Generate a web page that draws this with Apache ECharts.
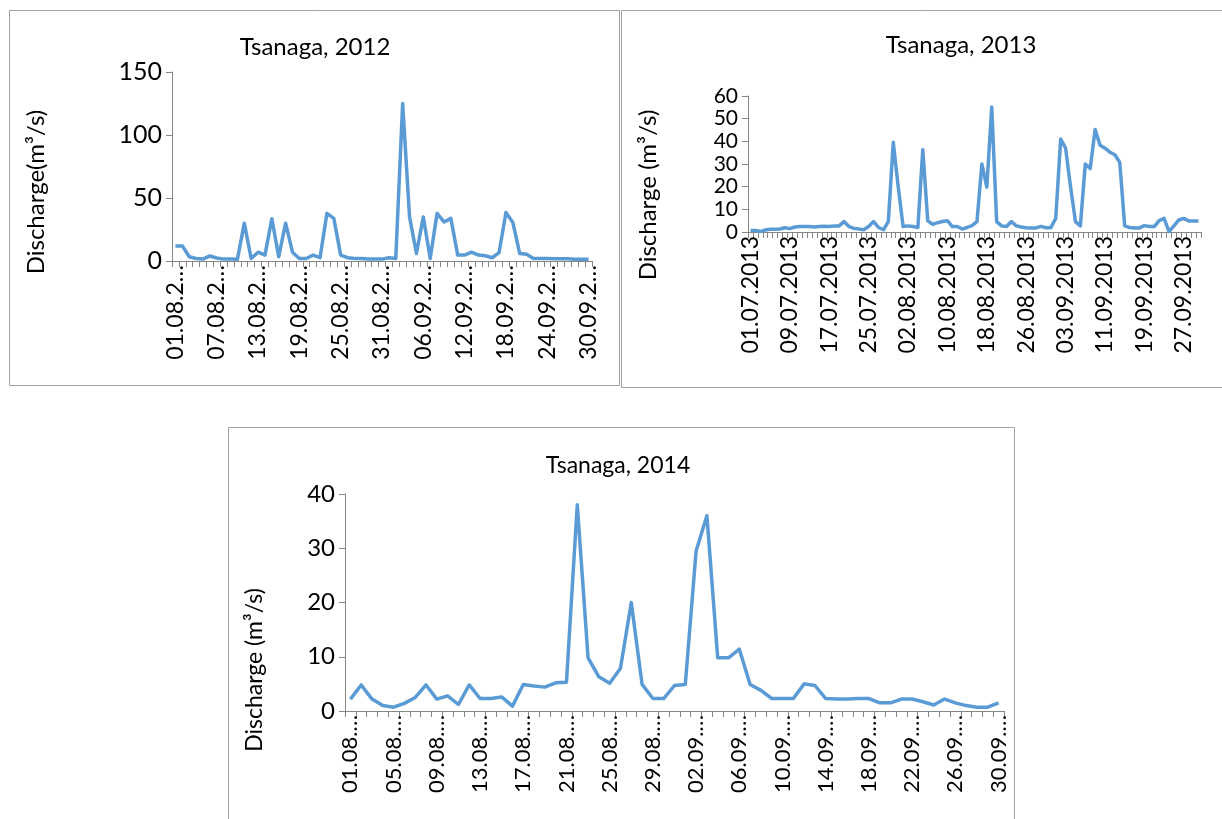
<!DOCTYPE html>
<html>
<head>
<meta charset="utf-8">
<script src="https://cdn.jsdelivr.net/npm/echarts@6/dist/echarts.min.js"></script>
<style>
html,body{margin:0;padding:0;background:#fff;}
#chart{width:1222px;height:819px;}
</style>
</head>
<body>
<div id="chart"></div>
<script>
// ---- categories ----
const dates2012 = ["01.08.2012","02.08.2012","03.08.2012","04.08.2012","05.08.2012","06.08.2012","07.08.2012","08.08.2012","09.08.2012","10.08.2012","11.08.2012","12.08.2012","13.08.2012","14.08.2012","15.08.2012","16.08.2012","17.08.2012","18.08.2012","19.08.2012","20.08.2012","21.08.2012","22.08.2012","23.08.2012","24.08.2012","25.08.2012","26.08.2012","27.08.2012","28.08.2012","29.08.2012","30.08.2012","31.08.2012","01.09.2012","02.09.2012","03.09.2012","04.09.2012","05.09.2012","06.09.2012","07.09.2012","08.09.2012","09.09.2012","10.09.2012","11.09.2012","12.09.2012","13.09.2012","14.09.2012","15.09.2012","16.09.2012","17.09.2012","18.09.2012","19.09.2012","20.09.2012","21.09.2012","22.09.2012","23.09.2012","24.09.2012","25.09.2012","26.09.2012","27.09.2012","28.09.2012","29.09.2012","30.09.2012"];
const dates2013 = ["01.07.2013","02.07.2013","03.07.2013","04.07.2013","05.07.2013","06.07.2013","07.07.2013","08.07.2013","09.07.2013","10.07.2013","11.07.2013","12.07.2013","13.07.2013","14.07.2013","15.07.2013","16.07.2013","17.07.2013","18.07.2013","19.07.2013","20.07.2013","21.07.2013","22.07.2013","23.07.2013","24.07.2013","25.07.2013","26.07.2013","27.07.2013","28.07.2013","29.07.2013","30.07.2013","31.07.2013","01.08.2013","02.08.2013","03.08.2013","04.08.2013","05.08.2013","06.08.2013","07.08.2013","08.08.2013","09.08.2013","10.08.2013","11.08.2013","12.08.2013","13.08.2013","14.08.2013","15.08.2013","16.08.2013","17.08.2013","18.08.2013","19.08.2013","20.08.2013","21.08.2013","22.08.2013","23.08.2013","24.08.2013","25.08.2013","26.08.2013","27.08.2013","28.08.2013","29.08.2013","30.08.2013","31.08.2013","01.09.2013","02.09.2013","03.09.2013","04.09.2013","05.09.2013","06.09.2013","07.09.2013","08.09.2013","09.09.2013","10.09.2013","11.09.2013","12.09.2013","13.09.2013","14.09.2013","15.09.2013","16.09.2013","17.09.2013","18.09.2013","19.09.2013","20.09.2013","21.09.2013","22.09.2013","23.09.2013","24.09.2013","25.09.2013","26.09.2013","27.09.2013","28.09.2013","29.09.2013","30.09.2013"];
const dates2014 = ["01.08.2014","02.08.2014","03.08.2014","04.08.2014","05.08.2014","06.08.2014","07.08.2014","08.08.2014","09.08.2014","10.08.2014","11.08.2014","12.08.2014","13.08.2014","14.08.2014","15.08.2014","16.08.2014","17.08.2014","18.08.2014","19.08.2014","20.08.2014","21.08.2014","22.08.2014","23.08.2014","24.08.2014","25.08.2014","26.08.2014","27.08.2014","28.08.2014","29.08.2014","30.08.2014","31.08.2014","01.09.2014","02.09.2014","03.09.2014","04.09.2014","05.09.2014","06.09.2014","07.09.2014","08.09.2014","09.09.2014","10.09.2014","11.09.2014","12.09.2014","13.09.2014","14.09.2014","15.09.2014","16.09.2014","17.09.2014","18.09.2014","19.09.2014","20.09.2014","21.09.2014","22.09.2014","23.09.2014","24.09.2014","25.09.2014","26.09.2014","27.09.2014","28.09.2014","29.09.2014","30.09.2014"];

// ---- series values (m3/s) ----
const q2012 = [12,12,3.4,2,1.5,4,2.4,1.5,1.5,1.3,
  30,2,7,4.7,33.5,3.4,30,7,2,2,
  4.7,2.6,37.8,33.8,4.7,2.6,2,2,1.5,1.5,
  1.5,2.6,2,125,35,6,35,2,37.8,31,
  33.8,4.7,4.7,7,4.7,4.2,2.6,6.6,38.5,30.6,
  6,5.3,2,2,2,1.8,1.8,1.8,1.3,1.3,1.3];
const q2013 = [0.7,0.7,0.2,0.9,1.2,1.2,1.3,1.9,1.5,2.2,
  2.4,2.4,2.4,2.2,2.4,2.5,2.4,2.7,2.7,4.6,
  2.4,1.6,1.3,1,2.4,4.6,2,1,4.6,39.6,
  20,2.4,2.7,2.4,2,36.3,4.9,3.4,4.1,4.6,
  5,2.4,2.4,1.3,2,2.8,4.6,30,19.8,55.1,
  4.6,2.7,2.4,4.6,2.7,2.2,1.9,1.8,1.8,2.5,
  1.9,1.9,6,41,37,20,4.6,2.7,30,28,
  45.2,38.3,37,35.2,34.1,30.7,2.7,2,1.8,1.8,
  2.8,2.4,2.4,5,6,0.2,2.7,5.3,6,4.9,
  4.9,4.9];
const q2014 = [2.2,4.8,2.2,1.0,0.7,1.4,2.5,4.8,2.2,2.8,
  1.2,4.8,2.3,2.3,2.6,0.9,4.9,4.6,4.4,5.2,
  5.3,38,9.8,6.3,5.1,7.9,20,4.9,2.3,2.3,
  4.7,4.9,29.5,36,9.8,9.8,11.4,4.9,3.8,2.3,
  2.3,2.3,5.0,4.7,2.3,2.2,2.2,2.3,2.3,1.5,
  1.5,2.2,2.2,1.7,1.1,2.2,1.5,1.0,0.7,0.7,1.5];

// ---- texts ----
const titles = ["Tsanaga, 2012", "Tsanaga, 2013", "Tsanaga, 2014"];
const yNames = ["Discharge(m\u00b3/s)", "Discharge (m\u00b3/s)", "Discharge (m\u00b3/s)"];

const FONT = 'Lato, "Open Sans", sans-serif';
const AX = '#868686';
const LINE = '#5B9BD5';

function xAxisCfg(gi, cats, every, fmt, fs) {
  return {
    type: 'category', gridIndex: gi, data: cats, boundaryGap: true,
    axisLine: {show: true, lineStyle: {color: AX, width: 1}},
    axisTick: {show: true, interval: 0, length: 6, lineStyle: {color: AX}},
    axisLabel: {interval: every - 1, rotate: 90, margin: 4, color: '#000',
      fontFamily: FONT, fontSize: fs, formatter: fmt},
    splitLine: {show: false}
  };
}
function yAxisCfg(gi, max, step, fs) {
  return {
    type: 'value', gridIndex: gi, min: 0, max: max, interval: step,
    axisLine: {show: true, lineStyle: {color: AX, width: 1}},
    axisTick: {show: true, length: 6, lineStyle: {color: AX}},
    axisLabel: {margin: 10, color: '#000', fontFamily: FONT, fontSize: fs,
      showMinLabel: true, showMaxLabel: true, hideOverlap: false},
    splitLine: {show: false}
  };
}
function lineSeries(i, data) {
  return {type: 'line', xAxisIndex: i, yAxisIndex: i, data: data,
    symbol: 'none', smooth: false, lineStyle: {color: LINE, width: 3.5, join: 'round'},
    itemStyle: {color: LINE}};
}
function boxRect(x, y, w, h) {
  return {type: 'rect', shape: {x: x, y: y, width: w, height: h}, silent: true,
    style: {fill: 'none', stroke: '#a0a0a0', lineWidth: 1}, z: -1};
}
function axisName(text, cx, cy, fs) {
  return {type: 'text', x: cx, y: cy, rotation: Math.PI / 2, silent: true,
    style: {text: text, fill: '#000', font: fs + 'px ' + FONT, align: 'center', verticalAlign: 'middle'}};
}

const option = {
  animation: false,
  backgroundColor: '#fff',
  title: [
    {text: titles[0], left: 315, top: 35, textAlign: 'center', padding: 0,
      textStyle: {fontFamily: FONT, fontSize: 24, fontWeight: 'normal', color: '#000'}},
    {text: titles[1], left: 961, top: 33, textAlign: 'center', padding: 0,
      textStyle: {fontFamily: FONT, fontSize: 24, fontWeight: 'normal', color: '#000'}},
    {text: titles[2], left: 618, top: 454, textAlign: 'center', padding: 0,
      textStyle: {fontFamily: FONT, fontSize: 23, fontWeight: 'normal', color: '#000'}}
  ],
  grid: [
    {left: 172, top: 72, width: 420, height: 189, containLabel: false},
    {left: 748, top: 96, width: 453, height: 136, containLabel: false},
    {left: 345, top: 494, width: 659, height: 217, containLabel: false}
  ],
  xAxis: [
    xAxisCfg(0, dates2012, 6, v => v.slice(0, 7) + '\u2026', 23),
    xAxisCfg(1, dates2013, 8, v => v, 23),
    xAxisCfg(2, dates2014, 4, v => v.slice(0, 6) + '\u2026', 22)
  ],
  yAxis: [
    yAxisCfg(0, 150, 50, 25),
    yAxisCfg(1, 60, 10, 21),
    yAxisCfg(2, 40, 10, 24)
  ],
  series: [lineSeries(0, q2012), lineSeries(1, q2013), lineSeries(2, q2014)],
  graphic: [
    boxRect(9.5, 10.5, 610, 375),
    boxRect(621.5, 10.5, 620, 377),
    boxRect(228.5, 427.5, 786, 420),
    axisName(yNames[0], 36, 192, 24),
    axisName(yNames[1], 648, 195, 24),
    axisName(yNames[2], 255, 670, 23)
  ]
};
const chart = echarts.init(document.getElementById('chart'), null, {renderer: 'canvas'});
chart.setOption(option);
</script>
</body>
</html>
